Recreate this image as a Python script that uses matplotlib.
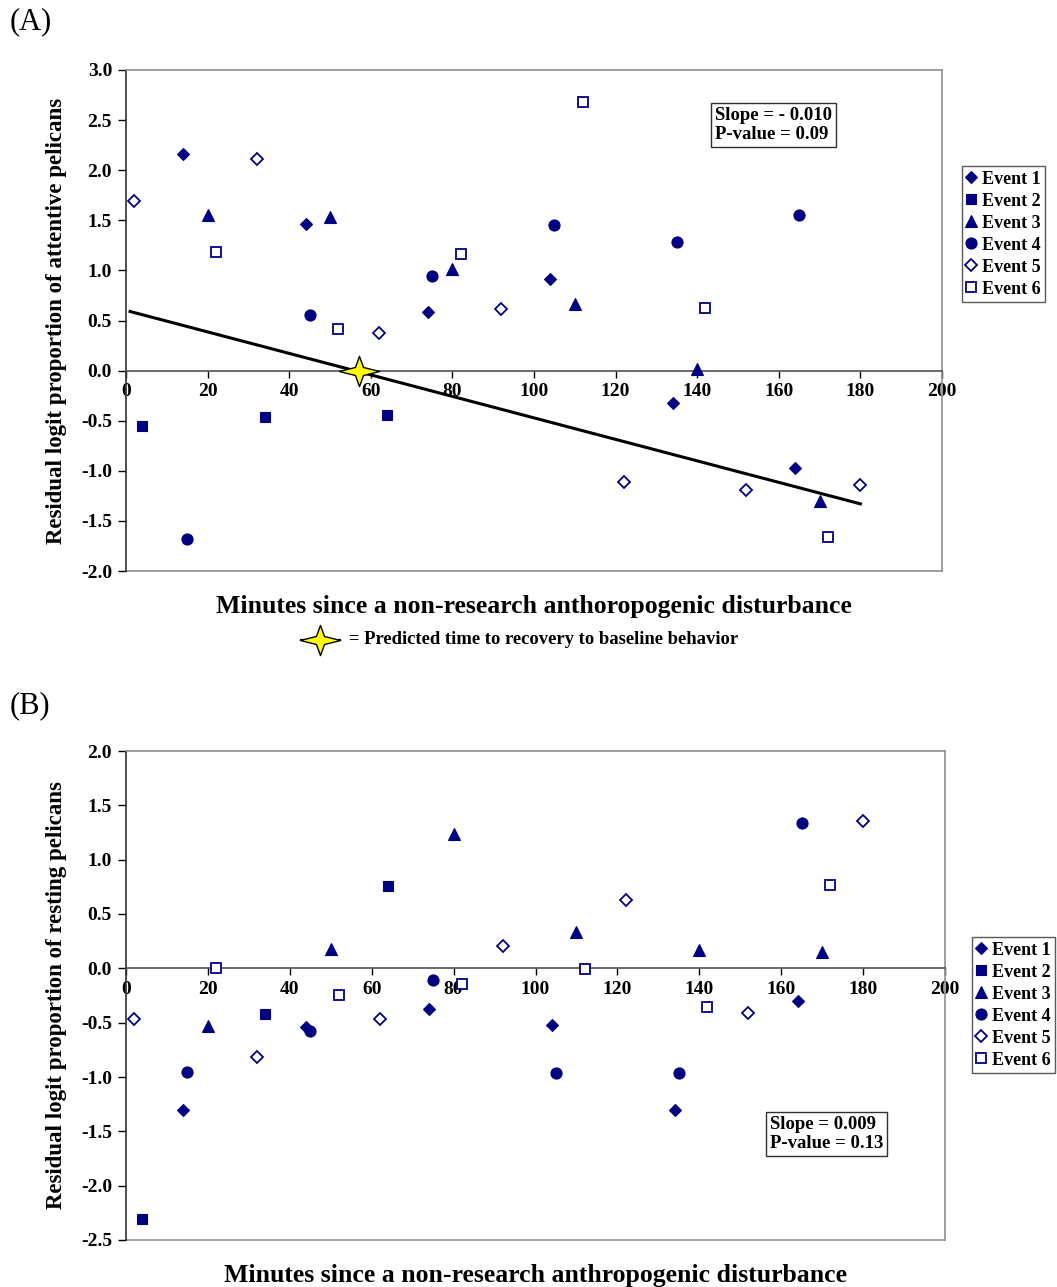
"""Residual logit proportions of attentive (A) and resting (B) pelicans
vs minutes since a non-research anthropogenic disturbance."""

import matplotlib
matplotlib.use("Agg")
import matplotlib.pyplot as plt
from matplotlib.lines import Line2D
from matplotlib.path import Path

W, H = 1057, 1287
NAVY = "#000080"

EVENTS = ["Event 1", "Event 2", "Event 3", "Event 4", "Event 5", "Event 6"]

# panel A: attentive pelicans
a_x1 = [14, 44, 74, 104, 134, 164]
a_y1 = [2.16, 1.46, 0.58, 0.91, -0.32, -0.97]
a_x2 = [4, 34, 64]
a_y2 = [-0.55, -0.46, -0.44]
a_x3 = [20, 50, 80, 110, 140, 170]
a_y3 = [1.55, 1.53, 1.01, 0.66, 0.02, -1.30]
a_x4 = [15, 45, 75, 105, 135, 165]
a_y4 = [-1.68, 0.55, 0.94, 1.45, 1.28, 1.55]
a_x5 = [2, 32, 62, 92, 122, 152, 180]
a_y5 = [1.69, 2.11, 0.38, 0.61, -1.11, -1.19, -1.14]
a_x6 = [22, 52, 82, 112, 142, 172]
a_y6 = [1.18, 0.42, 1.16, 2.68, 0.62, -1.66]
a_fit_x = [1, 180]
a_fit_y = [0.59, -1.33]
a_recovery_x = 57

# panel B: resting pelicans
b_x1 = [14, 44, 74, 104, 134, 164]
b_y1 = [-1.30, -0.54, -0.37, -0.52, -1.30, -0.30]
b_x2 = [4, 34, 64]
b_y2 = [-2.31, -0.42, 0.76]
b_x3 = [20, 50, 80, 110, 140, 170]
b_y3 = [-0.53, 0.18, 1.24, 0.33, 0.17, 0.15]
b_x4 = [15, 45, 75, 105, 135, 165]
b_y4 = [-0.95, -0.58, -0.11, -0.96, -0.96, 1.34]
b_x5 = [2, 32, 62, 92, 122, 152, 180]
b_y5 = [-0.47, -0.82, -0.47, 0.21, 0.63, -0.41, 1.36]
b_x6 = [22, 52, 82, 112, 142, 172]
b_y6 = [0.00, -0.25, -0.14, -0.01, -0.36, 0.77]

# marker style per event: (marker, size, filled)
STYLES = [("D", 6, True), ("s", 7.5, True), ("^", 8, True),
          ("o", 8, True), ("D", 6, False), ("s", 7.5, False)]

# four-point star, wider than tall
STAR = Path([(1, 0), (0.2, 0.2), (0, 0.75), (-0.2, 0.2), (-1, 0),
             (-0.2, -0.2), (0, -0.75), (0.2, -0.2), (1, 0)],
            [Path.MOVETO] + [Path.LINETO] * 7 + [Path.CLOSEPOLY])

plt.rcParams["font.family"] = ["Liberation Serif", "DejaVu Serif"]
plt.rcParams["font.weight"] = "bold"


def scatter_events(ax, xs, ys):
    for name, x, y, (m, ms, filled) in zip(EVENTS, xs, ys, STYLES):
        ax.plot(x, y, linestyle="none", marker=m, markersize=ms,
                markerfacecolor=NAVY if filled else "white",
                markeredgecolor=NAVY, markeredgewidth=1.3 if not filled else 0.8,
                label=name, zorder=4)


def style_axes(ax, ylim, yticks, xlabel, ylabel, xlabel_y):
    ax.set_xlim(0, 200)
    ax.set_ylim(*ylim)
    ax.set_xticks(range(0, 201, 20))
    ax.set_yticks(yticks)
    ax.set_yticklabels([f"{t:.1f}" for t in yticks])
    for s in ["top", "right"]:
        ax.spines[s].set_color("#909090")
        ax.spines[s].set_linewidth(1.2)
    ax.spines["left"].set_color("#303030")
    ax.spines["left"].set_linewidth(1.2)
    ax.spines["bottom"].set_position(("data", 0))
    ax.spines["bottom"].set_color("#505050")
    ax.spines["bottom"].set_linewidth(1.2)
    # grey frame line along the bottom of the plot area
    ax.plot([0, 1], [0, 0], transform=ax.transAxes, color="#909090",
            lw=1.2, clip_on=False, zorder=1)
    ax.tick_params(axis="y", direction="out", length=6, width=1, pad=4,
                   labelsize=14)
    ax.tick_params(axis="x", direction="out", length=5, width=1, pad=4,
                   labelsize=14)
    ax.set_ylabel(ylabel, fontsize=16.5, fontweight="bold", labelpad=10)
    ax.text(0.5, xlabel_y, xlabel, transform=ax.transAxes, ha="center",
            va="center", fontsize=18.5, fontweight="bold")


def add_legend(ax, x0, y1):
    leg = ax.legend(loc="upper left", bbox_to_anchor=(x0, y1),
                    fontsize=13, frameon=True, fancybox=False,
                    handlelength=0.55, handletextpad=0.3, borderpad=0.25,
                    labelspacing=0.28, borderaxespad=0)
    leg.get_frame().set_edgecolor("#303030")
    leg.get_frame().set_linewidth(1)
    for t in leg.get_texts():
        t.set_fontweight("bold")


fig = plt.figure(figsize=(W / 100, H / 100), dpi=100)

# ---- panel A
axA = fig.add_axes([126 / W, 1 - 571 / H, 816 / W, 501 / H])
scatter_events(axA, [a_x1, a_x2, a_x3, a_x4, a_x5, a_x6],
               [a_y1, a_y2, a_y3, a_y4, a_y5, a_y6])
axA.plot(a_fit_x, a_fit_y, color="black", lw=2.2, zorder=3)
axA.plot([a_recovery_x], [0], linestyle="none", marker=STAR, markersize=29,
         markerfacecolor="#FFFF00", markeredgecolor="black",
         markeredgewidth=1, zorder=5)
style_axes(axA, (-2.0, 3.0), [3.0, 2.5, 2.0, 1.5, 1.0, 0.5, 0.0, -0.5, -1.0, -1.5, -2.0],
           "Minutes since a non-research anthoropogenic disturbance",
           "Residual logit proportion of attentive pelicans", -0.07)
axA.text(0.722, 0.927, "Slope = - 0.010\nP-value = 0.09", transform=axA.transAxes,
         ha="left", va="top", fontsize=13.5, fontweight="bold", linespacing=1.2,
         bbox=dict(boxstyle="square,pad=0.2", facecolor="white",
                   edgecolor="#303030", linewidth=1))
add_legend(axA, (962 - 126) / 816, (571 - 166) / 501)
fig.text(10 / W, 1 - 22 / H, "(A)", fontsize=22, fontweight="normal",
         ha="left", va="center")

# recovery symbol key
ky = 1 - 640 / H
fig.add_artist(Line2D([301 / W, 340 / W], [ky, ky], color="black", lw=1.5,
                      transform=fig.transFigure))
fig.add_artist(Line2D([320 / W], [ky], linestyle="none", marker=STAR,
                      markersize=29, markerfacecolor="#FFFF00",
                      markeredgecolor="black", markeredgewidth=1,
                      transform=fig.transFigure))
fig.text(349 / W, ky, "= Predicted time to recovery to baseline behavior",
         fontsize=13.4, fontweight="bold", ha="left", va="center")

# ---- panel B
axB = fig.add_axes([126 / W, 1 - 1240 / H, 819 / W, 489 / H])
scatter_events(axB, [b_x1, b_x2, b_x3, b_x4, b_x5, b_x6],
               [b_y1, b_y2, b_y3, b_y4, b_y5, b_y6])
style_axes(axB, (-2.5, 2.0), [2.0, 1.5, 1.0, 0.5, 0.0, -0.5, -1.0, -1.5, -2.0, -2.5],
           "Minutes since a non-research anthropogenic disturbance",
           "Residual logit proportion of resting pelicans", -0.073)
axB.text(0.786, 0.254, "Slope = 0.009\nP-value = 0.13", transform=axB.transAxes,
         ha="left", va="top", fontsize=13.5, fontweight="bold", linespacing=1.2,
         bbox=dict(boxstyle="square,pad=0.2", facecolor="white",
                   edgecolor="#303030", linewidth=1))
add_legend(axB, (972 - 126) / 819, (1240 - 937) / 489)
fig.text(10 / W, 1 - 706 / H, "(B)", fontsize=22, fontweight="normal",
         ha="left", va="center")

fig.savefig("out.png", dpi=100)
